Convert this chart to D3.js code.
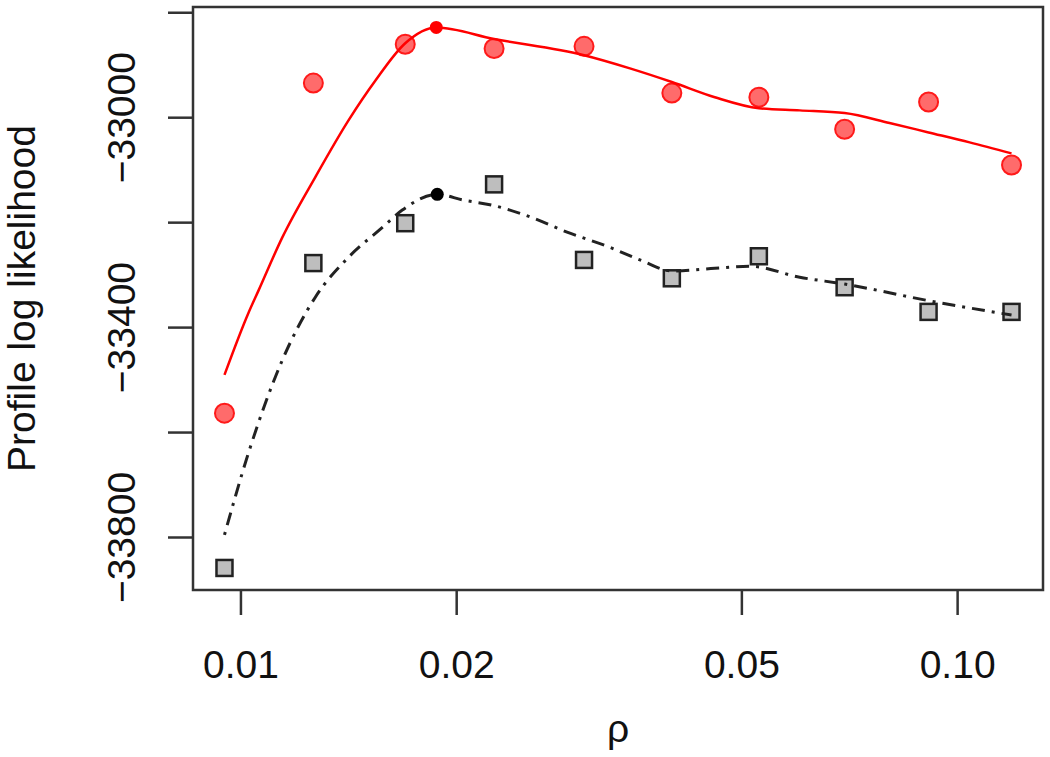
<!DOCTYPE html>
<html>
<head>
<meta charset="utf-8">
<script src="https://cdn.jsdelivr.net/npm/d3@7"></script>
<style>
  body { margin: 0; background: #fff; }
  svg { display: block; font-family: "Liberation Sans", Arial, sans-serif; }
</style>
</head>
<body>
<script>
// rho grid where the profile was evaluated
const rho = [0.0095, 0.01264, 0.01698, 0.02259, 0.03016, 0.03999, 0.05289, 0.06967, 0.09124, 0.1191];
// profile log likelihood, two runs
const redLik  = [-33564, -32935, -32861, -32869, -32865, -32954, -32962, -33023, -32971, -33091];
const greyLik = [-33859, -33278, -33202, -33128, -33272, -33307, -33265, -33324, -33371, -33371];

// smoothed curves
const redCurveRho = [0.0095, 0.01026, 0.0106, 0.01144, 0.01272, 0.01415, 0.01543, 0.01698, 0.01876, 0.02259,
  0.03016, 0.03495, 0.03999, 0.04591, 0.05289, 0.06031, 0.06967, 0.08049, 0.09124, 0.1041, 0.1191];
const redCurveLik = [-33491, -33373, -33330, -33229, -33114, -33006, -32930, -32859, -32829, -32851,
  -32882, -32907, -32933, -32962, -32983, -32987, -32992, -33011, -33029, -33048, -33069];
const greyCurveRho = [0.0095, 0.01026, 0.01144, 0.01272, 0.01415, 0.01578, 0.01682, 0.01882, 0.02046, 0.02252,
  0.02536, 0.02856, 0.03278, 0.03609, 0.03999, 0.04591, 0.05138, 0.06031, 0.06967, 0.09153, 0.1191];
const greyCurveLik = [-33796, -33640, -33463, -33343, -33267, -33210, -33177, -33147, -33158, -33168,
  -33190, -33219, -33248, -33272, -33293, -33288, -33284, -33305, -33318, -33350, -33377];

// maxima of the smoothed curves
const redPeak = [0.01876, -32829];
const greyPeak = [0.01882, -33147];

const xTicks = [0.01, 0.02, 0.05, 0.1];
const xTickLabels = ["0.01", "0.02", "0.05", "0.10"];
const yTicks = [-32800, -33000, -33200, -33400, -33600, -33800];
const yLabelled = [-33000, -33400, -33800];

const w = 1050, h = 757;
const m = { left: 193, right: 1043, top: 7, bottom: 590 };

const svg = d3.select("body").append("svg")
  .attr("width", w)
  .attr("height", h);

// R style: data range padded by 4% on each side
const lx = d3.extent(rho).map(Math.log10);
const padX = (lx[1] - lx[0]) * 0.04;
const x = d3.scaleLog()
  .domain([Math.pow(10, lx[0] - padX), Math.pow(10, lx[1] + padX)])
  .range([m.left, m.right]);

const y = d3.scaleLinear()
  .domain([-33901, -32790])
  .range([m.bottom, m.top]);

const fmtMinus = v => String(v).replace("-", "\u2212");

// x axis
const xAxis = svg.append("g")
  .attr("transform", `translate(0,${m.bottom})`)
  .call(d3.axisBottom(x).tickValues(xTicks).tickSize(25).tickSizeOuter(0)
    .tickFormat((d, i) => xTickLabels[i]));
xAxis.select(".domain").remove();
xAxis.selectAll(".tick line").attr("stroke", "#333").attr("stroke-width", 2.5);
xAxis.selectAll(".tick text")
  .attr("y", 88).attr("dy", 0)
  .attr("font-size", 39).attr("fill", "#111");

// y axis
const yAxis = svg.append("g")
  .attr("transform", `translate(${m.left},0)`)
  .call(d3.axisLeft(y).tickValues(yTicks).tickSize(25).tickSizeOuter(0)
    .tickFormat(d => yLabelled.includes(d) ? fmtMinus(d) : ""));
yAxis.select(".domain").remove();
yAxis.selectAll(".tick line").attr("stroke", "#333").attr("stroke-width", 2.5);
yAxis.selectAll(".tick text")
  .attr("x", null).attr("dy", null)
  .attr("transform", "translate(-58,0) rotate(-90)")
  .attr("text-anchor", "middle")
  .attr("font-size", 39).attr("fill", "#111");

// plot box
svg.append("rect")
  .attr("x", m.left).attr("y", m.top)
  .attr("width", m.right - m.left).attr("height", m.bottom - m.top)
  .attr("fill", "none")
  .attr("stroke", "#333")
  .attr("stroke-width", 2.5);

// axis titles
svg.append("text")
  .attr("transform", `translate(35,${(m.top + m.bottom) / 2}) rotate(-90)`)
  .attr("text-anchor", "middle")
  .attr("font-size", 39)
  .attr("fill", "#111")
  .text("Profile log likelihood");

svg.append("text")
  .attr("x", (m.left + m.right) / 2)
  .attr("y", 742)
  .attr("text-anchor", "middle")
  .attr("font-size", 39)
  .attr("fill", "#111")
  .text("\u03c1");

// points
svg.append("g").selectAll("circle")
  .data(rho.map((r, i) => [r, redLik[i]]))
  .join("circle")
  .attr("cx", d => x(d[0]))
  .attr("cy", d => y(d[1]))
  .attr("r", 9.5)
  .attr("fill", "#ff6b6b")
  .attr("stroke", "#ff1a1a")
  .attr("stroke-width", 2);

const sq = 16;
svg.append("g").selectAll("rect")
  .data(rho.map((r, i) => [r, greyLik[i]]))
  .join("rect")
  .attr("x", d => x(d[0]) - sq / 2)
  .attr("y", d => y(d[1]) - sq / 2)
  .attr("width", sq).attr("height", sq)
  .attr("fill", "#bebebe")
  .attr("stroke", "#222")
  .attr("stroke-width", 2.5);

// smoothed curves
const line = d3.line()
  .x(d => x(d[0]))
  .y(d => y(d[1]))
  .curve(d3.curveMonotoneX);

svg.append("path")
  .datum(redCurveRho.map((r, i) => [r, redCurveLik[i]]))
  .attr("d", line)
  .attr("fill", "none")
  .attr("stroke", "#ff0000")
  .attr("stroke-width", 2.5);

svg.append("path")
  .datum(greyCurveRho.map((r, i) => [r, greyCurveLik[i]]))
  .attr("d", line)
  .attr("fill", "none")
  .attr("stroke", "#222")
  .attr("stroke-width", 3)
  .attr("stroke-dasharray", "3,7,13,7");

// maxima
svg.append("circle")
  .attr("cx", x(redPeak[0])).attr("cy", y(redPeak[1]))
  .attr("r", 6.5).attr("fill", "#ff0000");
svg.append("circle")
  .attr("cx", x(greyPeak[0])).attr("cy", y(greyPeak[1]))
  .attr("r", 6.5).attr("fill", "#000");
</script>
</body>
</html>
